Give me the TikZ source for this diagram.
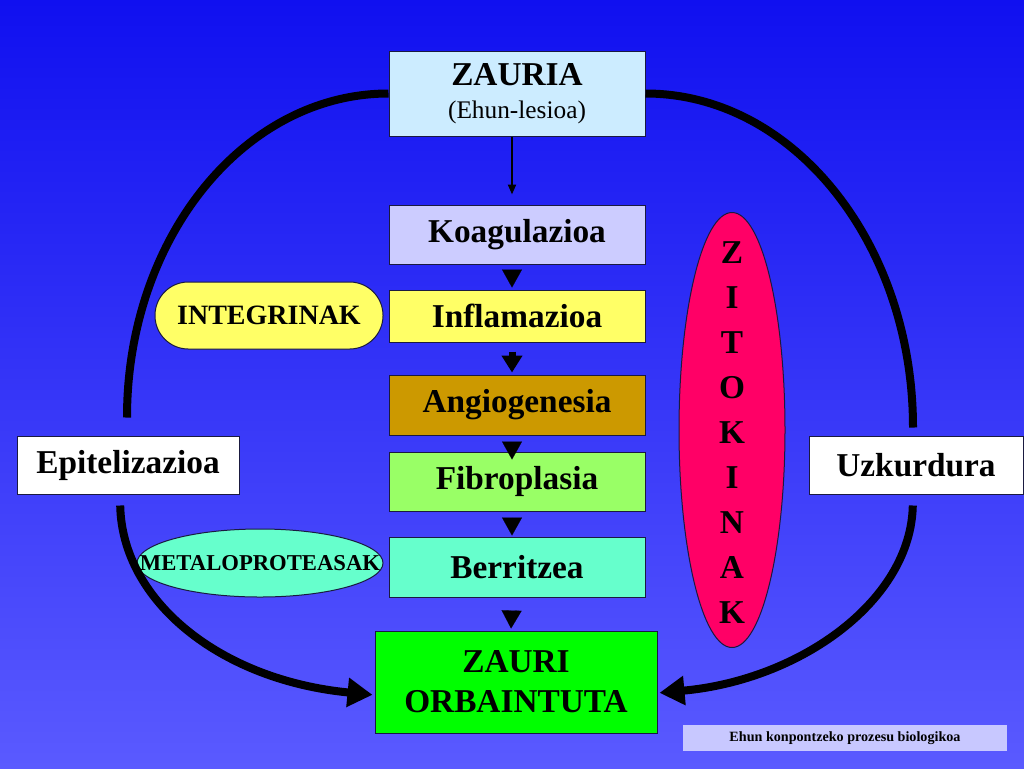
\documentclass[tikz,border=0pt]{standalone}
\usepackage{fontspec}
\setmainfont{Liberation Serif}
\usetikzlibrary{arrows.meta,shapes.geometric}
\definecolor{bgtop}{HTML}{1010F0}
\definecolor{bgbot}{HTML}{5A5AFF}
\definecolor{edge}{HTML}{1A1A40}
\definecolor{zauriafill}{HTML}{CCECFF}
\definecolor{koagfill}{HTML}{CCCCFF}
\definecolor{inflamfill}{HTML}{FFFF66}
\definecolor{angiofill}{HTML}{CC9900}
\definecolor{fibrofill}{HTML}{99FF66}
\definecolor{berrifill}{HTML}{66FFCC}
\definecolor{orbainfill}{HTML}{00FF00}
\definecolor{zitofill}{HTML}{FF0066}
\definecolor{notefill}{HTML}{C8C8FF}
\tikzset{
  box/.style={draw=edge, line width=0.75pt, inner sep=0pt, align=center,
    minimum width=192pt, font=\fontsize{25}{30}\selectfont\bfseries},
  sidebox/.style={box, fill=white, minimum height=43.5pt},
  integ/.style={draw=edge, line width=0.75pt, fill=inflamfill, rounded corners=25pt,
    minimum width=171pt, minimum height=50.25pt, inner sep=0pt,
    font=\fontsize{21}{24}\selectfont\bfseries},
  oval/.style={ellipse, draw=edge, line width=0.75pt, inner sep=0pt},
  note/.style={fill=notefill, minimum width=243pt, minimum height=19.5pt, inner sep=0pt,
    font=\fontsize{10.6}{12}\selectfont\bfseries},
  pointer/.style={line width=1.5pt, -{Triangle[length=7.5pt,width=6pt]}},
  flowtip/.style={line width=0.1pt, -{Triangle[length=13.5pt,width=15pt]}},
  loopline/.style={line width=6pt, -{Triangle[length=18.75pt,width=21pt]}},
  loopplain/.style={line width=6pt}
}
\begin{document}
\begin{tikzpicture}[x=0.75pt, y=-0.75pt]
  \shade[top color=bgtop, bottom color=bgbot] (0,0) rectangle (1024,768);
  \useasboundingbox (0,0) rectangle (1024,768);

  \node[box, fill=zauriafill, minimum height=63.75pt, font=\fontsize{25}{24}\selectfont\bfseries] (zauria) at (517,93.5)
    {\raisebox{-2.25pt}{ZAURIA}\\{\fontsize{19}{24}\selectfont\mdseries\raisebox{-3pt}{(Ehun-lesioa)}}};
  \node[box, fill=koagfill, minimum height=44.25pt] (koag) at (517,234.5) {Koagulazioa};
  \node[box, fill=inflamfill, minimum height=39pt] (inflam) at (517,316) {Inflamazioa};
  \node[box, fill=angiofill, minimum height=45pt] (angio) at (517,405) {Angiogenesia};
  \node[box, fill=fibrofill, minimum height=44.25pt] (fibro) at (517,481.5) {Fibroplasia};
  \node[box, fill=berrifill, minimum height=45pt] (berri) at (517,567) {Berritzea};
  \node[box, fill=orbainfill, minimum width=211.5pt, minimum height=76.5pt] (orbain) at (516,682)
    {ZAURI\\ORBAINTUTA};
  \node[sidebox, minimum width=166.5pt] (epit) at (128,465) {Epitelizazioa};
  \node[sidebox, minimum width=160.5pt] (uzk) at (916,465) {Uzkurdura};
  \node[integ] (integ) at (269,315.5) {INTEGRINAK};
  \node[oval, fill=berrifill, minimum width=184.5pt, minimum height=51pt,
    font=\fontsize{17}{20}\selectfont\bfseries] (metalo) at (260,563)
    {\makebox[0pt]{METALOPROTEASAK}};
  \node[oval, fill=zitofill, minimum width=79.5pt, minimum height=326.25pt,
    font=\fontsize{25}{33.75}\selectfont\bfseries] (zito) at (732,430)
    {\smash{\raisebox{-8.25pt}{\parbox[c]{2em}{\centering Z\\I\\T\\O\\K\\I\\N\\A\\K}}}};
  \node[note] (note) at (845,738) {Ehun konpontzeko prozesu biologikoa};

  \draw[pointer, shorten >=7.5pt] ([xshift=-3.75pt]zauria.south) -- ([xshift=-3.75pt]koag.north);
  \draw[flowtip, shorten <=4.5pt, shorten >=1.5pt] ([xshift=-3.75pt]koag.south) -- ([xshift=-3.75pt]inflam.north);
  \draw[line width=5.25pt, -{Triangle[length=12.75pt,width=15pt]}, shorten <=6.75pt, shorten >=1.5pt]
    ([xshift=-3.75pt]inflam.south) -- ([xshift=-3.75pt]angio.north);
  \draw[flowtip, shorten <=5.25pt, shorten >=-6pt] ([xshift=-3.75pt]angio.south) -- ([xshift=-3.75pt]fibro.north);
  \draw[flowtip, shorten <=4.5pt, shorten >=0.75pt] ([xshift=-3.75pt]fibro.south) -- ([xshift=-3.75pt]berri.north);
  \draw[flowtip, shorten <=10.5pt, shorten >=1.5pt] ([xshift=-3.75pt]berri.south) -- ([xshift=-3.75pt]orbain.north);

  \draw[loopplain, shorten <=13.5pt] ([xshift=-0.75pt]epit.north) .. controls +(0,-198) and +(-144,0) .. (zauria.west);
  \draw[loopplain, shorten >=6pt] (zauria.east) .. controls +(148,0) and +(0,-192) .. ([xshift=-2.25pt]uzk.north);
  \draw[loopline, shorten <=8.25pt, shorten >=1.5pt] ([xshift=-6pt]epit.south) .. controls +(2,106) and +(-155,-15)
    .. ([yshift=-9.75pt]orbain.west);
  \draw[loopline, shorten <=8.25pt, shorten >=1.5pt] ([xshift=-2.25pt]uzk.south) .. controls +(-2,106) and +(143,-13)
    .. ([yshift=-8.25pt]orbain.east);
\end{tikzpicture}
\end{document}
